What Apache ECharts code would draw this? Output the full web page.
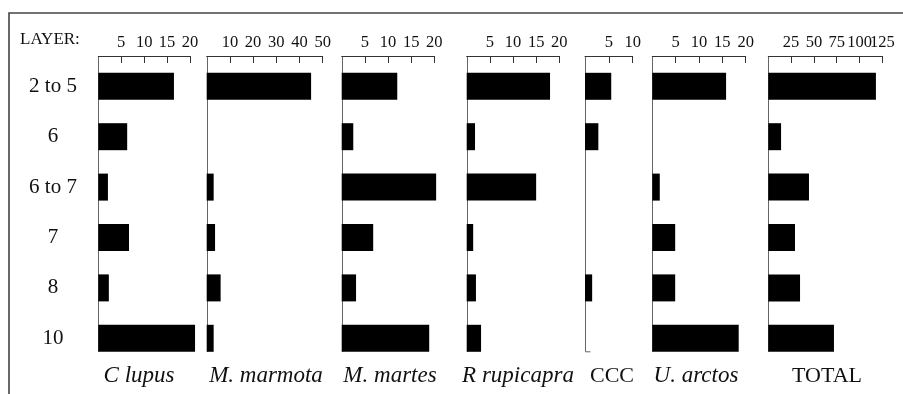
<!DOCTYPE html>
<html>
<head>
<meta charset="utf-8">
<script src="https://cdn.jsdelivr.net/npm/echarts@6/dist/echarts.min.js"></script>
<style>
html,body{margin:0;padding:0;background:#fff;}
#c{width:903px;height:394px;}
</style>
</head>
<body>
<div id="c"></div>
<script>
// ---- data ----
const categories = ['2 to 5', '6', '6 to 7', '7', '8', '10'];
const cLupus     = [16.5, 6.3, 2.1, 6.7, 2.3, 21.1];
const mMarmota   = [45, 0, 3, 3.6, 6, 3];
const mMartes    = [12, 2.5, 20.4, 6.8, 3.1, 18.9];
const rRupicapra = [18, 1.8, 15, 1.4, 2, 3.1];
const ccc        = [5.5, 2.8, 0, 0, 1.5, 0];
const uArctos    = [15.8, 0, 1.6, 4.9, 4.9, 18.5];
const total      = [118, 14, 44.6, 29.3, 34.8, 72];
const panelNames = ['C lupus', 'M. marmota', 'M. martes', 'R rupicapra', 'CCC', 'U. arctos', 'TOTAL'];
const axisMax    = [20, 50, 20, 20, 10, 20, 125];
const axisStep   = [5, 10, 5, 5, 5, 5, 25];
const rowLabel   = 'LAYER:';

// ---- layout ----
const seriesData = [cLupus, mMarmota, mMartes, rRupicapra, ccc, uArctos, total];
const italic = [true, true, true, true, false, true, false];
const gLeft  = [98.3, 206.7, 341.7, 466.7, 585, 652.3, 768.3];
const gWidth = [91.7, 116, 92.6, 92.6, 47.7, 93.4, 114];
const nameX  = [139, 266, 390, 518, 612, 696, 827];
const gTop = 61.1, gHeight = 302.4, axisOffset = 5.1, barW = 27;
const FONT = 'Liberation Serif';

const chart = echarts.init(document.getElementById('c'), null, {renderer: 'canvas'});

const grid = [], xAxis = [], yAxis = [], series = [];
const labelBase = {margin: 5, color: '#111', fontFamily: FONT, fontSize: 16.5, hideOverlap: false};
seriesData.forEach((d, i) => {
  grid.push({left: gLeft[i], top: gTop, width: gWidth[i], height: gHeight, containLabel: false});
  const mx = axisMax[i];
  // the last panel's max label is drawn by a twin axis so that it is not dropped as overlapping
  const twin = i === seriesData.length - 1;
  xAxis.push({
    gridIndex: i, type: 'value', position: 'top', offset: axisOffset,
    min: 0, max: mx, interval: axisStep[i],
    axisLine: {show: true, lineStyle: {color: '#333', width: 1}},
    axisTick: {show: true, inside: true, length: 7, lineStyle: {color: '#333', width: 1}},
    axisLabel: Object.assign({}, labelBase, {showMinLabel: false,
      formatter: v => (v === 0 || (twin && v === mx)) ? '' : String(v)}),
    splitLine: {show: false}
  });
  yAxis.push({
    gridIndex: i, type: 'category', data: categories, inverse: true,
    axisLine: {show: false}, axisTick: {show: false},
    axisLabel: {show: i === 0, align: 'center', margin: 45.3, color: '#111', fontFamily: FONT, fontSize: 21}
  });
  series.push({
    type: 'bar', xAxisIndex: i, yAxisIndex: i, data: d, barWidth: barW, clip: false,
    itemStyle: {color: '#000'}, silent: true, animation: false
  });
});
// twin axis for TOTAL max label
const last = seriesData.length - 1;
xAxis.push({
  gridIndex: last, type: 'value', position: 'top', offset: axisOffset,
  min: 0, max: axisMax[last], interval: axisStep[last],
  axisLine: {show: false}, axisTick: {show: false}, splitLine: {show: false},
  axisLabel: Object.assign({}, labelBase, {showMinLabel: false,
    formatter: v => v === axisMax[last] ? String(v) : ''})
});

chart.setOption({
  animation: false,
  backgroundColor: '#fff',
  grid, xAxis, yAxis, series
});

// frame, panel base lines, and names
const graphic = [];
graphic.push({type: 'polyline', shape: {points: [[9, 394], [9, 13], [903, 13]]},
  style: {stroke: '#444', lineWidth: 1.6, fill: null}, silent: true});
graphic.push({type: 'text', left: 20, top: 31,
  style: {text: rowLabel, font: '17px "' + FONT + '"', fill: '#111'}});
seriesData.forEach((d, i) => {
  const x0 = chart.convertToPixel({xAxisIndex: i}, 0);
  const yLast = chart.convertToPixel({yAxisIndex: i}, categories[categories.length - 1]);
  const x = Math.round(x0) + 0.5;
  const pts = [[x, gTop - axisOffset], [x, yLast + barW / 2]];
  if (panelNames[i] === 'CCC') pts.push([x + 5, yLast + barW / 2]);
  graphic.push({type: 'polyline', shape: {points: pts},
    style: {stroke: '#666', lineWidth: 1, fill: null}, silent: true});
  graphic.push({type: 'text', x: nameX[i], y: 376,
    style: {text: panelNames[i], font: (italic[i] ? 'italic 23px ' : '22px ') + '"' + FONT + '"',
      fill: '#111', textAlign: 'center', textVerticalAlign: 'middle'}});
});
chart.setOption({graphic});
</script>
</body>
</html>
